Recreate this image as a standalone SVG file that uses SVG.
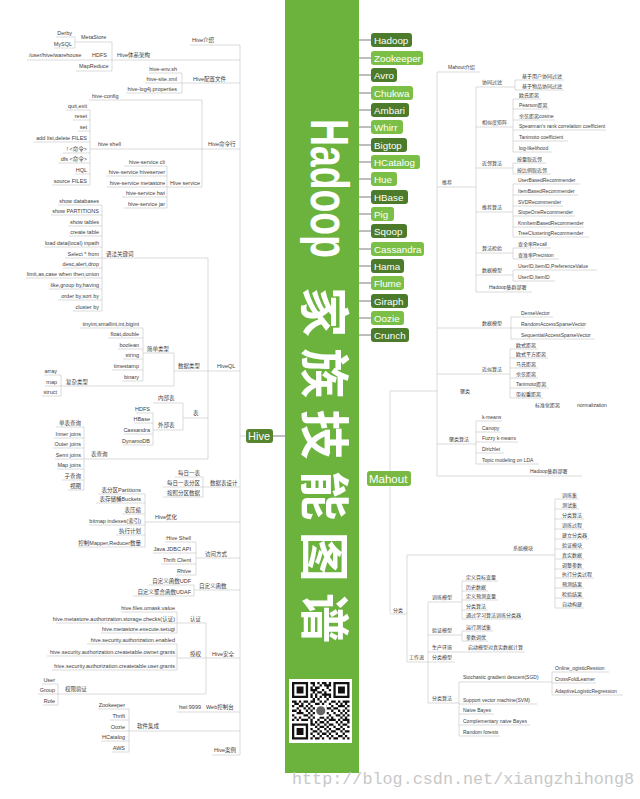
<svg xmlns="http://www.w3.org/2000/svg" width="640" height="799" viewBox="0 0 640 799">
<style>
.a{font-family:"Liberation Sans","Noto Sans CJK SC",sans-serif;font-size:5.5px;fill:#3c3c3c}
.b{font-family:"Liberation Sans","Noto Sans CJK SC",sans-serif;font-size:5px;fill:#3c3c3c}
.e{text-anchor:end}
.ln{fill:none;stroke:#c2c2c2;stroke-width:0.6}
.stub{fill:none;stroke:#5a5a5a;stroke-width:0.8}
.nt{font-family:"Liberation Sans",sans-serif;font-size:9.8px;fill:#fff}
.dk{fill:#4b7b2b}
.lt{fill:#7cbf46}
.tt{font-family:"Liberation Sans","Noto Sans CJK SC",sans-serif;fill:#fff;font-weight:bold}
</style>
<rect width="640" height="799" fill="#fff"/>

<g id="band">
<rect x="285" y="0" width="74" height="773" fill="#6cb33e"/>
<text class="tt" transform="translate(311,119) rotate(90)" font-size="54" textLength="139" lengthAdjust="spacingAndGlyphs">Hadoop</text>
<text class="tt" transform="translate(306,287) rotate(90)" font-size="50" textLength="356" lengthAdjust="spacing">家族技能图谱</text>
</g>

<g id="qrcode">
<rect x="289" y="679" width="63" height="64" fill="#fff"/>
<g transform="translate(292,682) scale(2.3)" fill="#111">
<path d="M0 0h7v7h-7zM1 1v5h5v-5zM2 2h3v3h-3z" fill-rule="evenodd"/>
<path d="M18 0h7v7h-7zM19 1v5h5v-5zM20 2h3v3h-3z" fill-rule="evenodd"/>
<path d="M0 18h7v7h-7zM1 19v5h5v-5zM2 20h3v3h-3z" fill-rule="evenodd"/>
<path d="M8 0h2v1h-2zM11 0h1v1h-1zM13 0h2v1h-2zM16 0h1v1h-1z
M9 1h1v1h-1zM12 1h1v1h-1zM14 1h3v1h-3z
M8 2h1v1h-1zM10 2h2v1h-2zM15 2h1v1h-1z
M8 3h3v1h-3zM13 3h1v1h-1zM16 3h1v1h-1z
M9 4h1v1h-1zM11 4h2v1h-2zM14 4h1v1h-1z
M8 5h1v1h-1zM10 5h1v1h-1zM13 5h4v1h-4z
M8 6h1v1h-1zM10 6h1v1h-1zM12 6h1v1h-1zM14 6h1v1h-1zM16 6h1v1h-1z
M9 7h1v1h-1zM11 7h1v1h-1zM15 7h1v1h-1z
M0 8h2v1h-2zM3 8h1v1h-1zM5 8h2v1h-2zM8 8h2v1h-2zM12 8h1v1h-1zM14 8h1v1h-1zM17 8h2v1h-2zM20 8h1v1h-1zM22 8h3v1h-3z
M1 9h2v1h-2zM4 9h1v1h-1zM7 9h1v1h-1zM10 9h2v1h-2zM13 9h1v1h-1zM16 9h1v1h-1zM19 9h1v1h-1zM21 9h1v1h-1zM23 9h1v1h-1z
M0 10h1v1h-1zM3 10h2v1h-2zM6 10h1v1h-1zM8 10h1v1h-1zM12 10h3v1h-3zM17 10h1v1h-1zM20 10h3v1h-3zM24 10h1v1h-1z
M2 11h1v1h-1zM5 11h1v1h-1zM7 11h1v1h-1zM9 11h2v1h-2zM15 11h2v1h-2zM18 11h2v1h-2zM23 11h1v1h-1z
M0 12h2v1h-2zM3 12h1v1h-1zM6 12h1v1h-1zM8 12h1v1h-1zM17 12h1v1h-1zM20 12h1v1h-1zM22 12h1v1h-1zM24 12h1v1h-1z
M2 13h3v1h-3zM7 13h1v1h-1zM9 13h1v1h-1zM15 13h1v1h-1zM18 13h1v1h-1zM21 13h1v1h-1zM23 13h1v1h-1z
M0 14h1v1h-1zM5 14h2v1h-2zM8 14h1v1h-1zM16 14h1v1h-1zM19 14h2v1h-2zM22 14h1v1h-1zM24 14h1v1h-1z
M1 15h1v1h-1zM3 15h1v1h-1zM7 15h1v1h-1zM9 15h1v1h-1zM12 15h2v1h-2zM15 15h1v1h-1zM17 15h1v1h-1zM21 15h1v1h-1zM23 15h1v1h-1z
M0 16h1v1h-1zM2 16h1v1h-1zM4 16h3v1h-3zM8 16h1v1h-1zM11 16h1v1h-1zM14 16h1v1h-1zM16 16h3v1h-3zM20 16h1v1h-1zM22 16h3v1h-3z
M8 17h1v1h-1zM10 17h1v1h-1zM12 17h2v1h-2zM15 17h1v1h-1zM19 17h1v1h-1zM21 17h1v1h-1zM24 17h1v1h-1z
M8 18h2v1h-2zM11 18h1v1h-1zM14 18h1v1h-1zM16 18h2v1h-2zM20 18h1v1h-1zM22 18h2v1h-2z
M10 19h1v1h-1zM12 19h2v1h-2zM15 19h1v1h-1zM18 19h1v1h-1zM21 19h1v1h-1zM24 19h1v1h-1z
M8 20h1v1h-1zM11 20h1v1h-1zM14 20h1v1h-1zM16 20h1v1h-1zM19 20h2v1h-2zM22 20h1v1h-1z
M9 21h2v1h-2zM12 21h1v1h-1zM15 21h1v1h-1zM17 21h2v1h-2zM21 21h1v1h-1zM23 21h2v1h-2z
M8 22h1v1h-1zM11 22h1v1h-1zM13 22h2v1h-2zM16 22h1v1h-1zM19 22h1v1h-1zM22 22h1v1h-1z
M9 23h1v1h-1zM12 23h1v1h-1zM15 23h1v1h-1zM17 23h1v1h-1zM20 23h2v1h-2zM23 23h1v1h-1z
M8 24h1v1h-1zM10 24h2v1h-2zM13 24h1v1h-1zM16 24h1v1h-1zM18 24h2v1h-2zM22 24h1v1h-1zM24 24h1v1h-1z"/>
<rect x="10" y="10" width="5" height="5" fill="#fff"/>
<circle cx="12.5" cy="12.5" r="2" fill="#666"/>
</g>
</g>

<text x="292" y="784" font-family="Liberation Mono, monospace" font-size="17" fill="#c8c8c8" textLength="342" lengthAdjust="spacingAndGlyphs">http://blog.csdn.net/xiangzhihong8</text>

<g id="connectors">
<path class="ln" d="M56,37H75M54,48H75M75,37V48M75,42H112M27,60H240M76,71H112M112,42V71M190,45H240"/>
<path class="ln" d="M149,73H182M145,83H240M126,93H182M182,73V93"/>
<path class="ln" d="M89,100H202M66,110H90M73,120H90M78,131H90M34,142H90M63,153H90M58,163H90M75,174H90M52,185H90M90,110V185M90,149H240M124,166H167M106,176H167M107,187H202M122,197H167M124,208H167M167,166V208M202,100V187"/>
<path class="ln" d="M58,205H102M51,215H102M68,226H102M69,236H102M44,247H102M65,258H208M63,268H102M26,278H102M49,289H102M58,300H102M73,311H102M102,205V311"/>
<path class="ln" d="M80,328H143M108,338H143M118,349H143M123,359H143M112,370H143M122,381H143M143,328V381M143,353H174M44,375H61M45,386H174M42,396H61M61,375V396M174,353V386M174,371H240"/>
<path class="ln" d="M153,403H183M153,430H183M183,403V430M183,418H208M136,413H153M134,423H153M124,434H153M123,445H153M153,413V445"/>
<path class="ln" d="M56,427H84M54,438H84M53,448H84M55,459H208M57,469H84M62,480H84M68,490H84M84,427V490M208,258V459"/>
<path class="ln" d="M175,477H203M163,487H240M163,497H203M203,477V497"/>
<path class="ln" d="M98,494H145M96,503H145M122,514H145M89,525H145M116,535H145M78,547H145M145,494V547M145,522H240"/>
<path class="ln" d="M165,542H196M153,553H196M161,564H196M176,575H196M196,542V575M196,558H240M149,585H194M133,596H194M194,585V596M194,590H240"/>
<path class="ln" d="M121,612H177M56,623H206M101,633H177M177,612V633M87,644H177M47,656H177M52,670H177M177,644V670M177,658H240M42,684H58M38,694H206M43,705H58M58,684V705M206,623V694"/>
<path class="ln" d="M98,709H129M110,720H129M110,731H240M101,741H129M112,752H129M129,709V752M177,712H240M212,755H240"/>
<path class="ln" d="M240,45V755M240,436H246"/>
<path class="stub" d="M273,436H285"/>
<path class="stub" d="M359,40H371M359,58H371M359,75H371M359,93H371M359,110H371M359,127H371M359,145H371M359,162H371M359,179H371M359,197H371M359,214H371M359,231H371M359,249H371M359,266H371M359,283H371M359,301H371M359,318H371M359,335H371"/>
<path class="ln" d="M437,72V476M437,72H480M437,187H476M476,87V292M476,87H515M515,80V90M515,80H564M515,90H564"/>
<path class="ln" d="M476,127H513M513,99V152M513,99H541M513,109H549M513,120H555M513,130H606M513,141H568M513,152H552"/>
<path class="ln" d="M476,168H513M513,163V174M513,163H546M513,174H551"/>
<path class="ln" d="M476,212H513M513,184V237M513,184H580M513,195H578M513,206H563M513,216H575M513,227H584M513,237H589"/>
<path class="ln" d="M476,253H513M513,248V259M513,248H551M513,259H559M476,275H513M513,270V281M513,270H597M513,281H555M476,292H532"/>
<path class="ln" d="M437,328H511M511,317V339M511,317H553M511,328H585M511,339H595"/>
<path class="ln" d="M437,374H510M510,349V398M510,349H538M510,358H548M510,368H538M510,378H538M510,388H549M510,398H543"/>
<path class="ln" d="M437,444H476M476,421V464M476,421H502M476,432H501M476,442H518M476,453H504M476,464H539M437,476H582"/>
<path class="ln" d="M390,391V613M390,391H437M390,614H407M407,555V662M407,555H555M555,499V608M555,499H579M555,509H579M555,519H584M555,529H584M555,539H589M555,549H584M555,559H584M555,569H584M555,578H594M555,588H584M555,598H584M555,608H584"/>
<path class="ln" d="M407,662H455M428,602V703M428,602H462M462,581V619M462,581H498M462,591H488M462,600H498M462,610H488M462,619H523M428,635H462M462,631V641M462,631H493M462,641H488M428,652H525"/>
<path class="ln" d="M428,703H459M459,682V736M459,682H552M459,704H537M459,714H494M459,725H530M459,736H500M552,672V695M552,672H609M552,683H596M552,695H623"/>
</g>

<g id="hive">
<rect x="246" y="429" width="27" height="14" rx="3" fill="#56852d"/>
<text x="248" y="440" font-family="Liberation Sans, sans-serif" font-size="11" fill="#fff">Hive</text>
</g>

<g id="hive-intro">
<text class="a" x="192" y="42">Hive介绍</text>
<text class="a" x="117" y="57">Hive体系架构</text>
<text class="a e" x="72" y="35">Derby</text>
<text class="a e" x="72" y="46">MySQL</text>
<text class="a" x="81" y="39">MetaStore</text>
<text class="a" x="29" y="57">/user/hive/warehouse</text>
<text class="a" x="92" y="57">HDFS</text>
<text class="a" x="79" y="68">MapReduce</text>
</g>

<g id="hive-conf">
<text class="a e" x="177" y="71">hive-env.sh</text>
<text class="a e" x="177" y="81">hive-site.xml</text>
<text class="a e" x="177" y="91">hive-log4j.properties</text>
<text class="a" x="193" y="81">Hive配置文件</text>
</g>

<g id="hive-cli">
<text class="a" x="208" y="146">Hive命令行</text>
<text class="a" x="92" y="98">hive-config</text>
<text class="a" x="98" y="146">hive shell</text>
<text class="a e" x="87" y="108">quit,exit</text>
<text class="a e" x="87" y="118">reset</text>
<text class="a e" x="87" y="129">set</text>
<text class="a e" x="87" y="140">add list,delete FILES</text>
<text class="a e" x="87" y="151">! &lt;命令&gt;</text>
<text class="a e" x="87" y="161">dfs &lt;命令&gt;</text>
<text class="a e" x="87" y="172">HQL</text>
<text class="a e" x="87" y="183">source FILES</text>
<text class="a" x="170" y="185">Hive service</text>
<text class="a e" x="165" y="164">hive-service cli</text>
<text class="a e" x="165" y="174">hive-service hiveserver</text>
<text class="a e" x="165" y="185">hive-service metastore</text>
<text class="a e" x="165" y="195">hive-service hwi</text>
<text class="a e" x="165" y="206">hive-service jar</text>
</g>

<g id="hiveql">
<text class="a" x="217" y="368">HiveQL</text>
<text class="a" x="106" y="256">语法关键词</text>
<text class="a e" x="99" y="203">show databases</text>
<text class="a e" x="99" y="213">show PARTITIONS</text>
<text class="a e" x="99" y="224">show tables</text>
<text class="a e" x="99" y="234">create table</text>
<text class="a e" x="99" y="245">load data(local) inpath</text>
<text class="a e" x="99" y="256">Select * from</text>
<text class="a e" x="99" y="266">desc,alert,drop</text>
<text class="a e" x="99" y="276">limit,as,case when then,union</text>
<text class="a e" x="99" y="287">like,group by,having</text>
<text class="a e" x="99" y="298">order by,sort by</text>
<text class="a e" x="99" y="309">cluster by</text>
<text class="a" x="178" y="368">数据类型</text>
<text class="a" x="147" y="351">简单类型</text>
<text class="a e" x="139" y="326">tinyint,smallint,int,bigint</text>
<text class="a e" x="139" y="336">float,double</text>
<text class="a e" x="139" y="347">boolean</text>
<text class="a e" x="139" y="357">string</text>
<text class="a e" x="139" y="368">timestamp</text>
<text class="a e" x="139" y="379">binary</text>
<text class="a" x="66" y="384">复杂类型</text>
<text class="a e" x="57" y="373">array</text>
<text class="a e" x="57" y="384">map</text>
<text class="a e" x="57" y="394">struct</text>
<text class="a" x="193" y="415">表</text>
<text class="a" x="158" y="400">内部表</text>
<text class="a" x="158" y="427">外部表</text>
<text class="a e" x="150" y="411">HDFS</text>
<text class="a e" x="150" y="421">HBase</text>
<text class="a e" x="150" y="432">Cassandra</text>
<text class="a e" x="150" y="443">DynamoDB</text>
<text class="a" x="91" y="456">表查询</text>
<text class="a e" x="81" y="425">单表查询</text>
<text class="a e" x="81" y="436">Inner joins</text>
<text class="a e" x="81" y="446">Outer joins</text>
<text class="a e" x="81" y="457">Semi joins</text>
<text class="a e" x="81" y="467">Map joins</text>
<text class="a e" x="81" y="478">子查询</text>
<text class="a e" x="81" y="488">视图</text>
</g>

<g id="hive-table-design">
<text class="a" x="210" y="485">数据表设计</text>
<text class="a e" x="200" y="475">每日一表</text>
<text class="a e" x="200" y="485">每日一表分区</text>
<text class="a e" x="200" y="495">按照分区数据</text>
</g>

<g id="hive-opt">
<text class="a" x="155" y="519">Hive优化</text>
<text class="a e" x="141" y="492">表分区Partitions</text>
<text class="a e" x="141" y="501">表存储桶Buckets</text>
<text class="a e" x="141" y="512">表压缩</text>
<text class="a e" x="141" y="523">bitmap indexes(索引)</text>
<text class="a e" x="141" y="533">执行计划</text>
<text class="a e" x="141" y="545">控制Mapper,Reducer数量</text>
</g>

<g id="hive-access">
<text class="a" x="205" y="556">访问方式</text>
<text class="a e" x="191" y="540">Hive Shell</text>
<text class="a e" x="191" y="551">Java JDBC API</text>
<text class="a e" x="191" y="562">Thrift Client</text>
<text class="a e" x="191" y="573">Rhive</text>
<text class="a" x="199" y="588">自定义函数</text>
<text class="a e" x="191" y="583">自定义函数UDF</text>
<text class="a e" x="191" y="594">自定义聚合函数UDAF</text>
</g>

<g id="hive-security">
<text class="a" x="212" y="656">Hive安全</text>
<text class="a" x="190" y="621">认证</text>
<text class="a e" x="175" y="610">hive.files.umask.value</text>
<text class="a e" x="175" y="621">hive.metastore.authorization.storage.checks(认证)</text>
<text class="a e" x="175" y="631">hive.metastore.execute.setugi</text>
<text class="a" x="190" y="656">授权</text>
<text class="a e" x="175" y="642">hive.security.authorization.enabled</text>
<text class="a e" x="175" y="654">hive.security.authorization.createtable.owner.grants</text>
<text class="a e" x="175" y="668">hive.security.authorization.createtable.user.grants</text>
<text class="a" x="65" y="691">权限验证</text>
<text class="a e" x="55" y="682">User</text>
<text class="a e" x="55" y="692">Group</text>
<text class="a e" x="55" y="703">Role</text>
</g>

<g id="hive-misc">
<text class="a" x="137" y="728">软件集成</text>
<text class="a e" x="125" y="707">Zookeeper</text>
<text class="a e" x="125" y="718">Thrift</text>
<text class="a e" x="125" y="729">Oozie</text>
<text class="a e" x="125" y="739">HCatalog</text>
<text class="a e" x="125" y="750">AWS</text>
<text class="a" x="179" y="709">hwi:9999</text>
<text class="a" x="206" y="709">Web控制台</text>
<text class="a" x="214" y="752">Hive案例</text>
</g>

<g id="hadoop-family">
<g id="n-hadoop"><rect class="dk" x="371" y="33" width="41" height="14" rx="3"/><text class="nt" x="374" y="44">Hadoop</text></g>
<g id="n-zookeeper"><rect class="lt" x="371" y="51" width="52" height="14" rx="3"/><text class="nt" x="374" y="62">Zookeeper</text></g>
<g id="n-avro"><rect class="dk" x="371" y="68" width="26" height="14" rx="3"/><text class="nt" x="374" y="79">Avro</text></g>
<g id="n-chukwa"><rect class="lt" x="371" y="86" width="42" height="14" rx="3"/><text class="nt" x="374" y="97">Chukwa</text></g>
<g id="n-ambari"><rect class="dk" x="371" y="103" width="38" height="14" rx="3"/><text class="nt" x="374" y="114">Ambari</text></g>
<g id="n-whirr"><rect class="lt" x="371" y="120" width="32" height="14" rx="3"/><text class="nt" x="374" y="131">Whirr</text></g>
<g id="n-bigtop"><rect class="dk" x="371" y="138" width="36" height="14" rx="3"/><text class="nt" x="374" y="149">Bigtop</text></g>
<g id="n-hcatalog"><rect class="lt" x="371" y="155" width="49" height="14" rx="3"/><text class="nt" x="374" y="166">HCatalog</text></g>
<g id="n-hue"><rect class="lt" x="371" y="172" width="26" height="14" rx="3"/><text class="nt" x="374" y="183">Hue</text></g>
<g id="n-hbase"><rect class="dk" x="371" y="190" width="37" height="14" rx="3"/><text class="nt" x="374" y="201">HBase</text></g>
<g id="n-pig"><rect class="lt" x="371" y="207" width="23" height="14" rx="3"/><text class="nt" x="374" y="218">Pig</text></g>
<g id="n-sqoop"><rect class="dk" x="371" y="224" width="36" height="14" rx="3"/><text class="nt" x="374" y="235">Sqoop</text></g>
<g id="n-cassandra"><rect class="lt" x="371" y="242" width="53" height="14" rx="3"/><text class="nt" x="374" y="253">Cassandra</text></g>
<g id="n-hama"><rect class="dk" x="371" y="259" width="33" height="14" rx="3"/><text class="nt" x="374" y="270">Hama</text></g>
<g id="n-flume"><rect class="lt" x="371" y="276" width="33" height="14" rx="3"/><text class="nt" x="374" y="287">Flume</text></g>
<g id="n-giraph"><rect class="dk" x="371" y="294" width="37" height="14" rx="3"/><text class="nt" x="374" y="305">Giraph</text></g>
<g id="n-oozie"><rect class="lt" x="371" y="311" width="33" height="14" rx="3"/><text class="nt" x="374" y="322">Oozie</text></g>
<g id="n-crunch"><rect class="dk" x="371" y="328" width="38" height="14" rx="3"/><text class="nt" x="374" y="339">Crunch</text></g>
</g>

<g id="mahout">
<rect x="367" y="471" width="44" height="15" rx="3" fill="#78b843"/>
<text x="369" y="482.5" font-family="Liberation Sans, sans-serif" font-size="11.5" fill="#fff">Mahout</text>
</g>

<g id="mahout-recommend">
<text class="b" x="448" y="69">Mahout介绍</text>
<text class="b" x="442" y="184">推荐</text>
<text class="b" x="482" y="84">协同过滤</text>
<text class="b" x="522" y="78">基于用户协同过滤</text>
<text class="b" x="522" y="88">基于物品协同过滤</text>
<text class="b" x="482" y="124">相似度矩阵</text>
<text class="b" x="519" y="97">欧氏距离</text>
<text class="b" x="519" y="107">Pearson距离</text>
<text class="b" x="519" y="118">余弦距离cosine</text>
<text class="b" x="519" y="128">Spearman's rank correlation coefficient</text>
<text class="b" x="519" y="139">Tanimoto coefficient</text>
<text class="b" x="519" y="150">log-likelihood</text>
<text class="b" x="482" y="165">近邻算法</text>
<text class="b" x="517" y="161">按量取近邻</text>
<text class="b" x="517" y="172">按比例取近邻</text>
<text class="b" x="482" y="209">推荐算法</text>
<text class="b" x="518" y="182">UserBasedRecommender</text>
<text class="b" x="518" y="193">ItemBasedRecommender</text>
<text class="b" x="518" y="204">SVDRecommender</text>
<text class="b" x="518" y="214">SlopeOneRecommender</text>
<text class="b" x="518" y="225">KnnItemBasedRecommender</text>
<text class="b" x="518" y="235">TreeClusteringRecommender</text>
<text class="b" x="482" y="250">算法检验</text>
<text class="b" x="518" y="246">查全率Recall</text>
<text class="b" x="518" y="257">查准率Precision</text>
<text class="b" x="482" y="272">数据模型</text>
<text class="b" x="518" y="268">UserID,ItemID,PreferenceValue</text>
<text class="b" x="518" y="279">UserID,ItemID</text>
<text class="b" x="489" y="289">Hadoop集群部署</text>
</g>

<g id="mahout-cluster">
<text class="b" x="460" y="393">聚类</text>
<text class="b" x="482" y="325">数据模型</text>
<text class="b" x="521" y="315">DenseVector</text>
<text class="b" x="521" y="326">RandomAccessSparseVector</text>
<text class="b" x="521" y="337">SequentialAccessSparseVector</text>
<text class="b" x="482" y="371">近似算法</text>
<text class="b" x="516" y="347">欧式距离</text>
<text class="b" x="516" y="356">欧式平方距离</text>
<text class="b" x="516" y="366">马氏距离</text>
<text class="b" x="516" y="376">余弦距离</text>
<text class="b" x="516" y="386">Tanimoto距离</text>
<text class="b" x="516" y="396">带权重距离</text>
<text class="b" x="535" y="407">标准化距离</text>
<text class="b" x="577" y="407">normalization</text>
<text class="b" x="449" y="441">聚类算法</text>
<text class="b" x="482" y="419">k-means</text>
<text class="b" x="482" y="430">Canopy</text>
<text class="b" x="482" y="440">Fuzzy k-means</text>
<text class="b" x="482" y="451">Dirichlet</text>
<text class="b" x="482" y="462">Topic modeling on LDA</text>
<text class="b" x="530" y="473">Hadoop集群部署</text>
</g>

<g id="mahout-classify">
<text class="b" x="393" y="612">分类</text>
<text class="b" x="513" y="550">系统模块</text>
<text class="b" x="562" y="497">训练集</text>
<text class="b" x="562" y="507">测试集</text>
<text class="b" x="562" y="517">分类算法</text>
<text class="b" x="562" y="527">训练过程</text>
<text class="b" x="562" y="537">建立分类器</text>
<text class="b" x="562" y="547">验证模块</text>
<text class="b" x="562" y="557">真实数据</text>
<text class="b" x="562" y="567">调整参数</text>
<text class="b" x="562" y="576">执行分类过程</text>
<text class="b" x="562" y="586">预测结果</text>
<text class="b" x="562" y="596">检验结果</text>
<text class="b" x="562" y="606">自动构建</text>
<text class="b" x="409" y="659">工作流</text>
<text class="b" x="432" y="599">训练模型</text>
<text class="b" x="466" y="579">定义目标变量</text>
<text class="b" x="466" y="589">历史数据</text>
<text class="b" x="466" y="598">定义预测变量</text>
<text class="b" x="466" y="608">分类算法</text>
<text class="b" x="466" y="617">通过学习算法训练分类器</text>
<text class="b" x="432" y="632">验证模型</text>
<text class="b" x="466" y="629">运行测试集</text>
<text class="b" x="466" y="639">参数调优</text>
<text class="b" x="432" y="649">生产环境</text>
<text class="b" x="468" y="649">启动模型对真实数据计算</text>
<text class="b" x="432" y="659">分类模型</text>
<text class="b" x="432" y="700">分类算法</text>
<text class="b" x="463" y="679">Stochastic gradient descent(SGD)</text>
<text class="b" x="463" y="702">Support vector machine(SVM)</text>
<text class="b" x="463" y="712">Naive Bayes</text>
<text class="b" x="463" y="723">Complementary naive Bayes</text>
<text class="b" x="463" y="734">Random forests</text>
<text class="b" x="555" y="670">Online_ogisticRession</text>
<text class="b" x="555" y="681">CrossFoldLearner</text>
<text class="b" x="555" y="693">AdaptiveLogisticRegression</text>
</g>
</svg>
